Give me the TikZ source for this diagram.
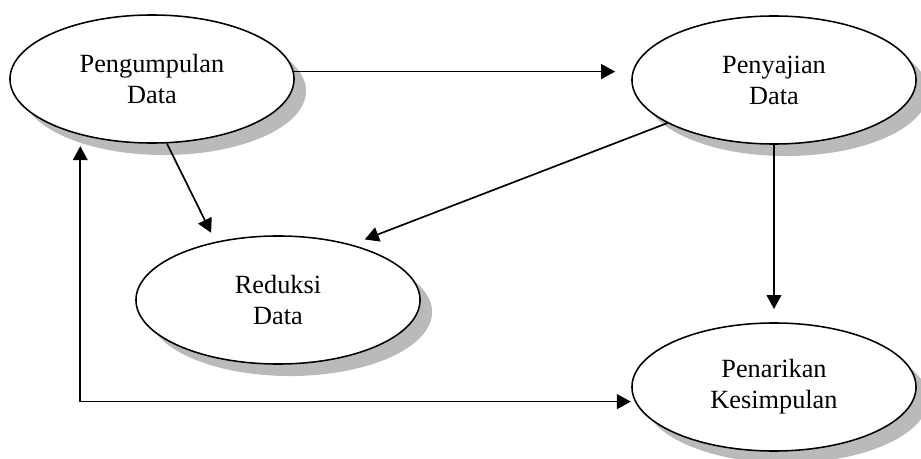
\documentclass[tikz,border=0pt]{standalone}
\usepackage{fontspec}
\setmainfont{Liberation Serif}
\usetikzlibrary{shapes.geometric,shadows,arrows.meta}

\tikzset{
proses/.style={ellipse, draw=black, line width=1.1pt, fill=white,
 minimum width=7.1cm, minimum height=3.2cm, align=center,
 font=\fontsize{18.7}{22}\selectfont,
 drop shadow={shadow xshift=0.3cm, shadow yshift=-0.3cm, fill=black!27, opacity=1}},
panah/.style={->, line width=1.2pt}
}

\begin{document}
\begin{tikzpicture}[x=0.025cm, y=-0.025cm, >={Triangle[length=0.35cm,width=0.37cm]}]
\useasboundingbox (0,0) rectangle (921,459);
\node[proses] (kumpul) at (152,79) {Pengumpulan\\Data};
\node[proses] (saji) at (774,80) {Penyajian\\Data};
\node[proses] (reduksi) at (278,300) {Reduksi\\Data};
\node[proses] (tarik) at (774,387) {Penarikan\\Kesimpulan};
% alur analisis
\draw[panah, shorten >=0.4cm] (kumpul.3) -- (kumpul.3 -| saji.west);
\draw[panah, shorten >=0.25cm] (kumpul.-77) -- (reduksi.137);
\draw[panah, shorten >=0.35cm] (saji.202) -- (reduksi.37);
\draw[panah, shorten >=0.33cm] (saji.south) -- (tarik.north);
\draw[<->, line width=1.2pt, shorten <=0.28cm, shorten >=0.1cm] (kumpul.218) |- (tarik.186);
\end{tikzpicture}
\end{document}
